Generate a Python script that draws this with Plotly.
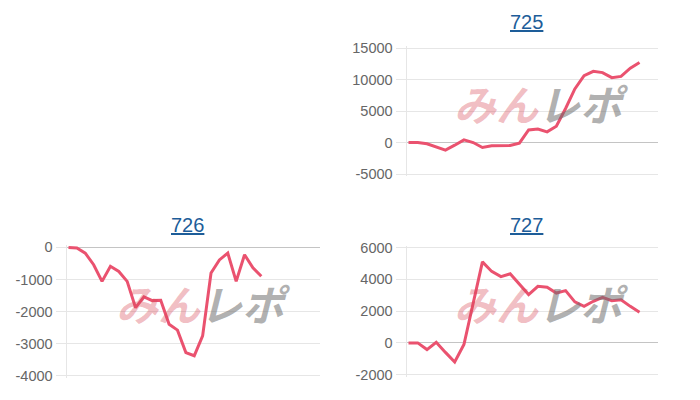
import plotly.graph_objects as go

# ---- data ----
titles = ["725", "726", "727"]
vals_725 = [0, 0, -200, -750, -1200, -420, 420, 0, -790, -520, -520, -470, -100,
            2000, 2150, 1700, 2600, 5400, 8500, 10600, 11300, 11100, 10300, 10500,
            11800, 12700]
vals_726 = [0, -20, -180, -540, -1060, -590, -750, -1060, -1880, -1540, -1660,
            -1650, -2400, -2580, -3280, -3380, -2760, -800, -390, -180, -1060,
            -230, -640, -900]
vals_727 = [0, 0, -420, 40, -600, -1200, -100, 2400, 5100, 4500, 4170, 4350,
            3670, 3040, 3560, 3500, 3140, 3290, 2580, 2300, 2620, 2870, 2660,
            2720, 2300, 1930]
ticks_725 = [-5000, 0, 5000, 10000, 15000]
ticks_726 = [-4000, -3000, -2000, -1000, 0]
ticks_727 = [-2000, 0, 2000, 4000, 6000]
slots = {"725": 27, "726": 30, "727": 27}

W, H = 700, 400
LINE = "#ea526f"
GRID = "#e6e6e6"
FONT = "Liberation Sans, Arial, sans-serif"


def Y(py):
    # vertical correction measured between page pixels and the photographed picture
    return (py - 5.6) / 0.972


# panel pixel geometry: (x of first slot, x of last slot, y of top tick, y of bottom tick)
geo = {
    "725": (408.5, 658, 47.7, 174.0),
    "726": (68.5, 320, 247.5, 376.0),
    "727": (408.5, 658, 247.7, 375.0),
}
series = {"725": vals_725, "726": vals_726, "727": vals_727}
ticks = {"725": ticks_725, "726": ticks_726, "727": ticks_727}
title_pos = {"725": (526, 22), "726": (187, 225), "727": (526, 225)}
mark_pos = {"725": (541, 102), "726": (203, 303), "727": (541, 303)}

fig = go.Figure()
PAD = 2.0
for n, name in enumerate(titles, start=1):
    x0, x1, yt, yb = geo[name]
    yt, yb = Y(yt), Y(yb)
    tv = ticks[name]
    lo, hi = min(tv), max(tv)
    ky = (yb - yt) / (hi - lo)
    kx = (x1 - x0) / slots[name]
    py = PAD / ky
    px = PAD / kx
    sfx = "" if n == 1 else str(n)
    vals = series[name]
    fig.add_trace(go.Scatter(
        x=list(range(len(vals))), y=vals, mode="lines",
        line=dict(color=LINE, width=3), hoverinfo="skip", showlegend=False,
        xaxis=f"x{sfx}", yaxis=f"y{sfx}",
    ))
    fig.layout[f"xaxis{sfx}"] = dict(
        domain=[(x0 - PAD) / W, x1 / W], range=[-px, slots[name]],
        showgrid=False, zeroline=False, showticklabels=False, ticks="",
        showline=False, fixedrange=True, anchor=f"y{sfx}",
    )
    fig.layout[f"yaxis{sfx}"] = dict(
        domain=[1 - (yb + PAD) / H, 1 - (yt - PAD) / H],
        range=[lo - py, hi + py], tickvals=tv,
        ticktext=[str(v) for v in tv],
        showgrid=True, gridcolor=GRID, gridwidth=1,
        zeroline=True, zerolinecolor="#c4c4c4", zerolinewidth=1,
        showline=True, linecolor=GRID, linewidth=1,
        ticks="outside", ticklen=10, tickcolor=GRID,
        tickfont=dict(family=FONT, size=14.5, color="#666666"),
        fixedrange=True, anchor=f"x{sfx}",
    )
    tx, ty = title_pos[name]
    fig.add_annotation(
        x=tx / W, y=1 - Y(ty) / H, xref="paper", yref="paper",
        text=f"<u>{name}</u>", showarrow=False, xanchor="center", yanchor="middle",
        font=dict(family=FONT, size=20, color="#1d5d99"),
    )
    mx, my = mark_pos[name]
    fig.add_annotation(
        x=mx / W, y=1 - Y(my) / H, xref="paper", yref="paper",
        text=("<b><i><span style='color:rgba(215,70,85,0.36)'>みん</span>"
              "<span style='color:rgba(110,110,110,0.55)'>レポ</span></i></b>"),
        showarrow=False, xanchor="center", yanchor="middle",
        font=dict(family="Noto Sans CJK JP", size=42),
    )

fig.update_layout(
    width=W, height=H, margin=dict(l=0, r=0, t=0, b=0),
    paper_bgcolor="white", plot_bgcolor="white",
)
fig.write_html(
    "out.html",
    config={"displayModeBar": False, "staticPlot": True},
    post_script="document.body.style.margin='0';document.body.style.padding='0';"
                "document.body.style.overflow='hidden';",
)
